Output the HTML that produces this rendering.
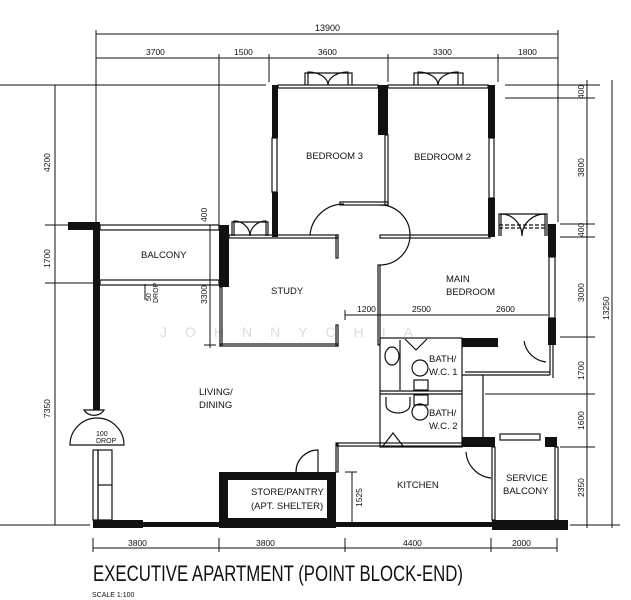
<!DOCTYPE html>
<html><head><meta charset="utf-8"><style>
html,body{margin:0;padding:0;background:#fff}
svg{display:block}
text{font-family:"Liberation Sans",sans-serif;fill:#111}
</style></head><body>
<svg width="631" height="600" viewBox="0 0 631 600" xmlns="http://www.w3.org/2000/svg">
<rect width="631" height="600" fill="#fff"/>
<g stroke="#111" stroke-width="1" fill="none">
<line x1="96" y1="34" x2="558" y2="34"/>
<line x1="96" y1="58" x2="558" y2="58"/>
<line x1="96" y1="30" x2="96" y2="225"/>
<line x1="219" y1="54" x2="219" y2="225"/>
<line x1="269" y1="54" x2="269" y2="82"/>
<line x1="388" y1="54" x2="388" y2="82"/>
<line x1="498" y1="54" x2="498" y2="82"/>
<line x1="558" y1="30" x2="558" y2="222"/>
<line x1="0" y1="85" x2="266" y2="85"/>
<line x1="55" y1="85" x2="55" y2="525"/>
<line x1="45" y1="225" x2="68" y2="225"/>
<line x1="45" y1="283" x2="93" y2="283"/>
<line x1="0" y1="525" x2="90" y2="525"/>
<line x1="210" y1="225" x2="210" y2="348"/>
<line x1="204" y1="345" x2="216" y2="345"/>
<line x1="505" y1="85" x2="600" y2="85"/>
<line x1="505" y1="98" x2="595" y2="98"/>
<line x1="560" y1="224" x2="595" y2="224"/>
<line x1="560" y1="237" x2="595" y2="237"/>
<line x1="560" y1="337" x2="595" y2="337"/>
<line x1="485" y1="394" x2="595" y2="394"/>
<line x1="560" y1="447" x2="595" y2="447"/>
<line x1="570" y1="525" x2="620" y2="525"/>
<line x1="587" y1="80" x2="587" y2="528"/>
<line x1="612" y1="80" x2="612" y2="528"/>
<line x1="93" y1="548" x2="557" y2="548"/>
<line x1="93" y1="538" x2="93" y2="552"/>
<line x1="219" y1="538" x2="219" y2="552"/>
<line x1="345" y1="538" x2="345" y2="552"/>
<line x1="491" y1="538" x2="491" y2="552"/>
<line x1="557" y1="538" x2="557" y2="552"/>
<line x1="345" y1="315" x2="548" y2="315"/>
<line x1="345" y1="310" x2="345" y2="320"/>
<line x1="352" y1="472" x2="352" y2="522"/>
<line x1="345" y1="472" x2="357" y2="472"/>
<line x1="145" y1="284" x2="145" y2="300"/>
</g>
<g fill="#111" font-size="8.5">
<text x="315" y="31" font-size="9">13900</text>
<text x="146" y="55">3700</text><text x="234" y="55">1500</text>
<text x="318" y="55">3600</text><text x="433" y="55">3300</text><text x="518" y="55">1800</text>
<text x="128" y="546">3800</text><text x="256" y="546">3800</text>
<text x="403" y="546">4400</text><text x="512" y="546">2000</text>
<text x="357" y="312">1200</text><text x="412" y="312">2500</text><text x="496" y="312">2600</text>
<text transform="translate(50,172) rotate(-90)">4200</text>
<text transform="translate(50,268) rotate(-90)">1700</text>
<text transform="translate(50,418) rotate(-90)">7350</text>
<text transform="translate(207,304) rotate(-90)">3300</text>
<text transform="translate(207,222) rotate(-90)">400</text>
<text transform="translate(584,99) rotate(-90)">400</text>
<text transform="translate(584,177) rotate(-90)">3800</text>
<text transform="translate(584,237) rotate(-90)">400</text>
<text transform="translate(584,302) rotate(-90)">3000</text>
<text transform="translate(584,380) rotate(-90)">1700</text>
<text transform="translate(584,430) rotate(-90)">1600</text>
<text transform="translate(584,497) rotate(-90)">2350</text>
<text transform="translate(609,320) rotate(-90)">13250</text>
<text transform="translate(362,507) rotate(-90)">1525</text>
<text transform="translate(151,301) rotate(-90)" font-size="7">50</text>
<text transform="translate(158,303) rotate(-90)" font-size="7">DROP</text>
<text x="96" y="436" font-size="7">100</text><text x="96" y="443" font-size="7">DROP</text>
</g>
<text x="160" y="337" font-size="14" style="fill:#ddd" letter-spacing="18">JOHNNYCHIA</text>
<g stroke="#111" stroke-width="1.2" fill="none">
<rect x="278" y="85" width="100" height="3"/>
<rect x="388" y="85" width="100" height="3"/>
<rect x="272" y="138" width="5" height="54"/>
<rect x="489" y="138" width="5" height="60"/>
<rect x="385" y="135" width="3" height="70"/>
<rect x="340" y="202" width="48" height="3"/>
<rect x="229" y="235" width="109" height="3"/>
<rect x="380" y="235" width="110" height="3"/>
<rect x="336" y="235" width="2" height="23"/>
<rect x="336" y="325" width="2" height="21"/>
<rect x="220" y="287" width="2" height="59"/>
<rect x="220" y="344" width="118" height="2"/>
<rect x="378" y="265" width="2" height="80"/>
<rect x="100" y="225" width="119" height="5"/>
<rect x="100" y="280" width="119" height="5"/>
<rect x="549" y="257" width="6" height="61"/>
<rect x="380" y="338" width="82" height="109"/>
<line x1="380" y1="391" x2="462" y2="391"/><line x1="380" y1="394" x2="462" y2="394"/>
<line x1="400" y1="340" x2="400" y2="390"/>
<line x1="462" y1="375" x2="550" y2="375"/><line x1="465" y1="372" x2="550" y2="372"/>
<line x1="550" y1="345" x2="550" y2="375"/><line x1="553" y1="345" x2="553" y2="378"/>
<line x1="483" y1="375" x2="483" y2="437"/>
<rect x="337" y="443" width="125" height="3"/>
<rect x="336" y="443" width="2" height="29"/>
<rect x="492" y="447" width="3" height="73"/>
<rect x="555" y="447" width="3" height="73"/>
<rect x="93" y="450" width="5" height="70"/>
<rect x="98" y="450" width="14" height="70"/>
<line x1="98" y1="485" x2="112" y2="485"/>
<rect x="500" y="434" width="40" height="6"/>
<path d="M305,85 V73 H352 V85"/><path d="M414,85 V73 H463 V85"/>
<path d="M308,85 V72 A20,13 0 0 1 328,85 M348,85 V72 A20,13 0 0 0 328,85"/>
<path d="M418,85 V72 A20,13 0 0 1 438,85 M458,85 V72 A20,13 0 0 0 438,85"/>
<path d="M232,236 V222 H268 V236"/>
<path d="M234,236 V221 A16,15 0 0 1 250,236 M266,236 V221 A16,15 0 0 0 250,236"/>
<path d="M499,236 V214 H547 V236"/>
<path d="M501,236 V214 A21,22 0 0 1 522,236 M545,236 V214 A23,22 0 0 0 522,236"/>
<line x1="499" y1="225" x2="547" y2="225" stroke-dasharray="4,2"/>
<line x1="499" y1="228" x2="547" y2="228" stroke-dasharray="4,2"/>
<path d="M310,235 A34,34 0 0 1 344,204"/>
<path d="M380,205 A30,30 0 0 1 380,265"/>
<path d="M524,341 A25,25 0 0 0 546,362"/>
<path d="M466,452 A28,28 0 0 0 491,478"/>
<path d="M296,472 A22,22 0 0 1 318,450 V472"/>
<path d="M70,445 A27,27 0 0 1 124,445 Z"/>
<path d="M84,410 A12,12 0 0 0 104,410 Z"/>
<ellipse cx="392" cy="356" rx="7" ry="9"/>
<circle cx="420" cy="368" r="8"/><rect x="414" y="380" width="14" height="10"/>
<circle cx="420" cy="412" r="8"/><rect x="414" y="395" width="14" height="10"/>
<path d="M386,397 V405 A12,8 0 0 0 410,405 V397"/>
<path d="M383,446 L393,433 L403,446"/>
<path d="M405,339 L416,350 L427,339"/>
</g>
<g fill="#111">
<rect x="272" y="85" width="6" height="53"/>
<rect x="272" y="192" width="6" height="45"/>
<rect x="378" y="85" width="10" height="50"/>
<rect x="488" y="85" width="7" height="53"/>
<rect x="488" y="198" width="7" height="39"/>
<rect x="548" y="224" width="8" height="33"/>
<rect x="548" y="318" width="8" height="27"/>
<rect x="68" y="222" width="32" height="8"/>
<rect x="93" y="222" width="7" height="188"/>
<rect x="219" y="225" width="10" height="62"/>
<rect x="462" y="338" width="36" height="9"/>
<rect x="462" y="437" width="33" height="10"/>
<rect x="545" y="437" width="12" height="10"/>
<rect x="93" y="520" width="50" height="8"/>
<rect x="143" y="522" width="349" height="5"/>
<rect x="492" y="520" width="76" height="10"/>
<path d="M219,472 H336 V528 H219 Z M228,480 V518 H327 V480 Z" fill-rule="evenodd"/>
</g>
<g font-size="9.5">
<text x="306" y="159">BEDROOM 3</text>
<text x="414" y="160">BEDROOM 2</text>
<text x="141" y="258">BALCONY</text>
<text x="271" y="294">STUDY</text>
<text x="446" y="282">MAIN</text><text x="446" y="295">BEDROOM</text>
<text x="199" y="395">LIVING/</text><text x="199" y="408">DINING</text>
<text x="429" y="362">BATH/</text><text x="429" y="375">W.C. 1</text>
<text x="429" y="416">BATH/</text><text x="429" y="429">W.C. 2</text>
<text x="397" y="488">KITCHEN</text>
<text x="506" y="481">SERVICE</text><text x="503" y="494">BALCONY</text>
<text x="251" y="495">STORE/PANTRY</text><text x="251" y="509">(APT. SHELTER)</text>
</g>
<text x="93" y="581" font-size="22" textLength="370" lengthAdjust="spacingAndGlyphs">EXECUTIVE APARTMENT (POINT BLOCK-END)</text>
<text x="92" y="597" font-size="7">SCALE   1:100</text>
</svg>
</body></html>
